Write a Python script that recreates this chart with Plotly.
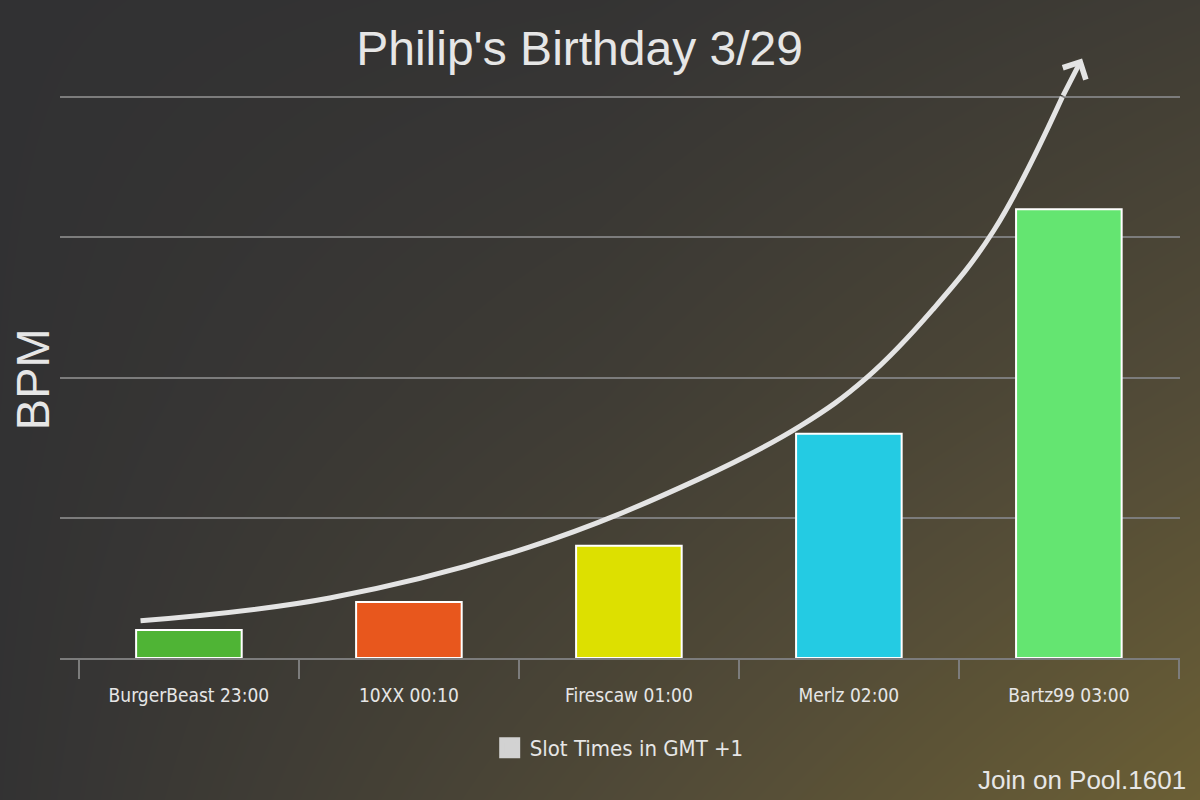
import plotly.graph_objects as go

# bars
slots = ["BurgerBeast 23:00", "10XX 00:10", "Firescaw 01:00", "Merlz 02:00", "Bartz99 03:00"]
bpm = [8, 16, 32, 64, 128]
bar_colors = ["#4fb435", "#e8571d", "#dde000", "#24cbe3", "#64e571"]
grid_vals = [0, 40, 80, 120, 160]

# hand drawn trend arrow (slot index, BPM)
arrow_x = [-0.22, 0.64, 1.55, 2.32, 2.78, 3.08, 3.38, 3.66, 3.97]
arrow_y = [10.6, 17.1, 31.7, 51.1, 66.2, 79.9, 99.3, 122.1, 160.0]
arrow_tip = (4.06, 171.0)

# background gradient levels (3x3, bottom row first)
bg_z = [[0.03, 0.50, 1.00],
        [0.01, 0.24, 0.57],
        [0.00, 0.05, 0.24]]

pos = list(range(len(slots)))
txt = "#e6e6e6"
grid = "#7c7c7c"

fig = go.Figure()

fig.add_trace(go.Heatmap(
    x=[0, 0.5, 1], y=[0, 0.5, 1], z=bg_z,
    colorscale=[[0, "#313133"], [0.55, "#524b37"], [1, "#6b5f35"]],
    zmin=0, zmax=1, zsmooth="best", showscale=False, hoverinfo="skip",
    xaxis="x", yaxis="y"))

fig.add_trace(go.Bar(
    x=pos, y=bpm, width=0.48,
    marker=dict(color=bar_colors, line=dict(color="white", width=2)),
    showlegend=False, xaxis="x2", yaxis="y2"))

fig.add_trace(go.Scatter(
    x=arrow_x, y=arrow_y, mode="lines",
    line=dict(color="#e4e4e4", width=5, shape="spline", smoothing=1.1),
    showlegend=False, hoverinfo="skip", xaxis="x2", yaxis="y2"))

# legend entry only
fig.add_trace(go.Scatter(
    x=[None], y=[None], mode="markers", name="Slot Times in GMT +1",
    marker=dict(symbol="square", size=16, color="#d2d2d2",
                line=dict(color="#d2d2d2", width=5)),
    xaxis="x2", yaxis="y2"))

fig.add_annotation(
    x=arrow_tip[0], y=arrow_tip[1], ax=arrow_x[-1], ay=arrow_y[-1],
    xref="x2", yref="y2", axref="x2", ayref="y2",
    text="", showarrow=True, arrowhead=4, arrowsize=1, arrowwidth=5,
    arrowcolor="#e4e4e4", standoff=0)

fig.add_annotation(
    text="BPM", x=32 / 1200, y=0.526, xref="paper", yref="paper",
    xanchor="center", yanchor="middle", showarrow=False, textangle=-90,
    font=dict(family="Liberation Sans", size=47, color=txt))

fig.add_annotation(
    text="Join on Pool.1601", x=0.99, y=0.004, xref="paper", yref="paper",
    xanchor="right", yanchor="bottom", showarrow=False,
    font=dict(family="Liberation Sans", size=26, color=txt))

fig.update_layout(
    width=1200, height=800,
    margin=dict(l=0, r=0, t=0, b=0),
    paper_bgcolor="#313133", plot_bgcolor="rgba(0,0,0,0)",
    title=dict(text="Philip's Birthday 3/29", x=0.483, y=0.94,
               xanchor="center", yanchor="middle",
               font=dict(family="Liberation Sans", size=48, color=txt)),
    xaxis=dict(domain=[0, 1], range=[0, 1], visible=False, fixedrange=True),
    yaxis=dict(domain=[0, 1], range=[0, 1], visible=False, fixedrange=True),
    xaxis2=dict(
        domain=[0.05, 0.9833], anchor="y2", range=[-0.586, 4.505],
        tickmode="array", tickvals=pos, ticktext=slots,
        ticks="outside", ticklen=19, tickcolor="rgba(0,0,0,0)",
        minor=dict(tickmode="array", tickvals=[p - 0.5 for p in pos] + [pos[-1] + 0.5],
                   ticks="outside", ticklen=19, tickwidth=2, tickcolor=grid),
        showline=True, linecolor=grid, linewidth=2, showgrid=False, zeroline=False,
        tickfont=dict(family="DejaVu Sans Condensed", size=19, color=txt)),
    yaxis2=dict(
        domain=[0.1775, 0.96625], anchor="x2", range=[0, 180],
        tickmode="array", tickvals=grid_vals, showticklabels=False,
        showgrid=True, gridcolor=grid, gridwidth=2, zeroline=False),
    showlegend=True,
    legend=dict(orientation="h", x=0.516, y=0.065, xanchor="center", yanchor="middle",
                bgcolor="rgba(0,0,0,0)",
                font=dict(family="DejaVu Sans Condensed", size=22, color=txt)),
)

fig.write_html("out.html", config={"displayModeBar": False},
               post_script="document.body.style.margin='0';")
